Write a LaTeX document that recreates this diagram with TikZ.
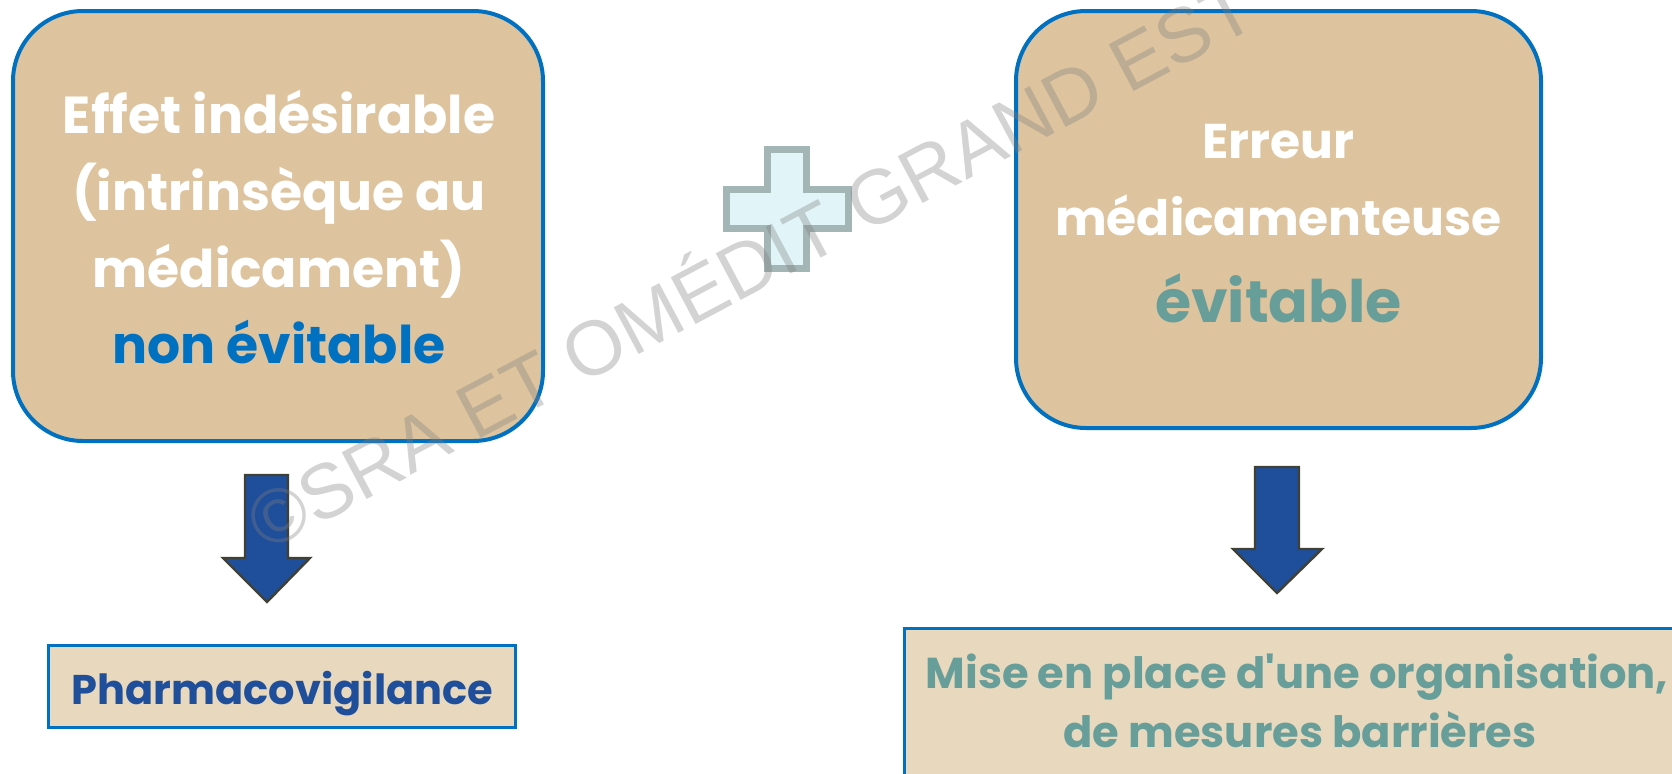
\documentclass[tikz,border=0pt]{standalone}
\usepackage{fontspec}
\setmainfont{Poppins}
\newfontfamily\plainfut{Poppins}
\newfontfamily\wmfont{Liberation Sans}
\definecolor{boxtan}{RGB}{221,196,158}
\definecolor{boxtanlight}{RGB}{232,217,190}
\definecolor{bblue}{RGB}{0,112,192}
\definecolor{tealtxt}{RGB}{104,158,154}
\definecolor{navytxt}{RGB}{31,78,154}
\definecolor{arrowedge}{RGB}{64,64,52}
\definecolor{plusfill}{RGB}{225,245,248}
\definecolor{plusedge}{RGB}{163,181,181}
\begin{document}
\begin{tikzpicture}[x=0.5pt,y=-0.5pt,
  bigbox/.style={draw=bblue, line width=2pt, fill=boxtan, rounded corners=35pt},
  smallbox/.style={draw=bblue, line width=1.5pt, fill=boxtanlight},
  linetxt/.style={anchor=base, inner sep=0pt, font=\bfseries\fontsize{26}{30}\selectfont},
  righttxt/.style={anchor=base, inner sep=0pt, font=\bfseries\fontsize{24.4}{28}\selectfont},
  bottxt/.style={anchor=base, inner sep=0pt, font=\plainfut\bfseries\fontsize{21.6}{26}\selectfont},
  blockarrow/.style={draw=arrowedge, line width=1.2pt, fill=navytxt, line join=miter},
  watermark/.style={anchor=base west, inner sep=0pt, text=black!50, text opacity=0.35, font=\wmfont\fontsize{38.5}{40}\selectfont}
]
\useasboundingbox (0,0) rectangle (1672,773);
\clip (0,0) rectangle (1672,773);

% top boxes
\node[bigbox, minimum width=265pt, minimum height=215pt] (left) at (278,226) {};
\node[bigbox, minimum width=262.5pt, minimum height=208.5pt] (right) at (1278.5,219.5) {};

\node[linetxt, text=white] (l1) at (279,133) {Effet indésirable};
\node[linetxt, text=white] (l2) at (279,210) {(intrinsèque au};
\node[linetxt, text=white] (l3) at (279,287) {médicament)};
\node[linetxt, text=bblue] (l4) at (279,363) {non évitable};

\node[righttxt, text=white] (r1) at (1278.5,158) {Erreur};
\node[righttxt, text=white] (r2) at (1278.5,235) {médicamenteuse};
\node[righttxt, text=tealtxt, font=\bfseries\fontsize{29.3}{34}\selectfont] (r3) at (1278.5,322) {évitable};

% plus sign
\draw[draw=plusedge, line width=3.5pt, fill=plusfill, line join=miter]
  (767.5,149.5) -- (806.5,149.5) -- (806.5,189.5) -- (848.5,189.5) -- (848.5,228.5)
  -- (806.5,228.5) -- (806.5,268.5) -- (767.5,268.5) -- (767.5,228.5) -- (726.5,228.5)
  -- (726.5,189.5) -- (767.5,189.5) -- cycle;

% bottom boxes
\node[smallbox, minimum width=233.5pt, minimum height=41pt] (pv) at (282,686.5) {};
\node[anchor=base, inner sep=0pt, text=navytxt, font=\bfseries\fontsize{20.75}{24}\selectfont] (pvt) at (282.5,704) {Pharmacovigilance};

\draw[smallbox] (904.5,800) -- (904.5,628.5) -- (1700,628.5) -- (1700,800) -- cycle;
\node[bottxt, text=tealtxt] (m1) at (1297,688) {Mise en place d'une organisation,};
\node[bottxt, text=tealtxt] (m2) at (1300,747) {de mesures barrières};

% block arrows
\draw[blockarrow] (245,475) -- (288,475) -- (288,558) -- (310,558) -- (267,602) -- (223,558) -- (245,558) -- cycle;
\draw[blockarrow] (1255,467) -- (1299,467) -- (1299,549) -- (1322,549) -- (1277,593) -- (1233,549) -- (1255,549) -- cycle;

% watermark
\node[watermark, rotate=28] (wm) at (266,553) {©SRA ET OMÉDIT GRAND EST -};
\end{tikzpicture}
\end{document}
